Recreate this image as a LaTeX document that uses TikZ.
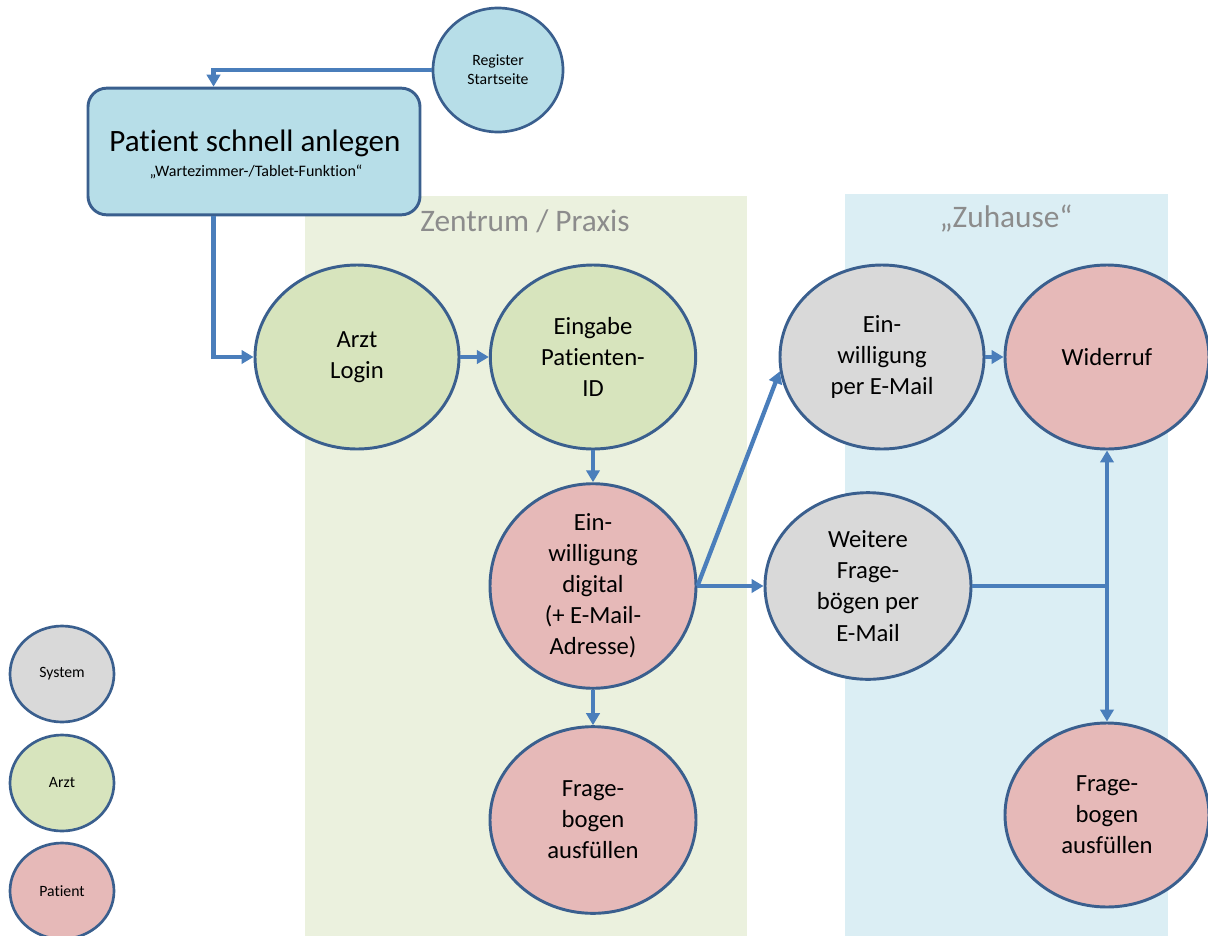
\documentclass[tikz,border=0pt]{standalone}
\usepackage{fontspec}
\setmainfont{Carlito}[Ligatures=NoCommon]
\usetikzlibrary{shapes.geometric,arrows.meta,calc}
\definecolor{bggreen}{HTML}{EBF1DE}
\definecolor{bgblue}{HTML}{DBEEF4}
\definecolor{fblue}{HTML}{B7DEE8}
\definecolor{fgreen}{HTML}{D7E4BD}
\definecolor{fpink}{HTML}{E6B9B8}
\definecolor{fgray}{HTML}{D9D9D9}
\definecolor{border}{HTML}{3A5F8E}
\definecolor{arrowc}{HTML}{4A7EBB}
\definecolor{headc}{HTML}{8C8C8C}
\tikzset{
  blob/.style={ellipse, draw=border, line width=2.2pt, inner sep=0pt, align=center,
    font=\fontsize{18.5}{23.3}\selectfont},
  small/.style={ellipse, draw=border, line width=2pt, inner sep=0pt, align=center,
    font=\fontsize{11.8}{14.2}\selectfont},
  arr/.style={draw=arrowc, line width=3.2pt, -{Triangle[length=9pt,width=10pt]}},
  ln/.style={draw=arrowc, line width=3.2pt},
  head/.style={text=headc, font=\fontsize{23.5}{27}\selectfont}
}
\begin{document}
\begin{tikzpicture}[x=0.75pt,y=-0.75pt]
\useasboundingbox (0,0) rectangle (1208,936);
% backgrounds
\fill[bggreen] (305,196) rectangle (747,936);
\fill[bgblue] (845,194) rectangle (1168,936);
\node[head] (hz) at (525,221) {Zentrum / Praxis};
\node[head] (hh) at (1006,219) {„Zuhause“};
% top
\node[small, fill=fblue, minimum width=97.5pt, minimum height=93pt] (reg) at (498,70) {Register\\Startseite};
\node[draw=border, line width=2.2pt, fill=fblue, rounded corners=14pt, minimum width=249pt, minimum height=95pt, align=center] (box) at (254,151.5) {};
\node (boxt) at (255,143) {\fontsize{23.3}{26}\selectfont Patient schnell anlegen};
\node (boxs) at (256,172) {\fontsize{12}{14}\selectfont „Wartezimmer-/Tablet-Funktion“};
% main nodes
\node[blob, fill=fgreen, minimum width=153pt, minimum height=138pt] (arzt) at (357,357) {Arzt\\Login};
\node[blob, fill=fgreen, minimum width=154pt, minimum height=138pt] (eing) at (593,357) {Eingabe\\Patienten-\\ID};
\node[blob, fill=fpink, minimum width=154.5pt, minimum height=142pt] (ein) at (593,586) {Ein-\\willigung\\digital\\(+ E-Mail-\\Adresse)};
\node[blob, fill=fpink, minimum width=154.5pt, minimum height=140pt] (fb1) at (593,820) {Frage-\\bogen\\ausfüllen};
\node[blob, fill=fgray, minimum width=153pt, minimum height=138pt] (mail) at (882,357) {Ein-\\willigung\\per E-Mail};
\node[blob, fill=fpink, minimum width=153pt, minimum height=138pt] (wid) at (1107,357) {Widerruf};
\node[blob, fill=fgray, minimum width=154.5pt, minimum height=140pt] (weit) at (868,586) {Weitere\\Frage-\\bögen per\\E-Mail};
\node[blob, fill=fpink, minimum width=153pt, minimum height=138pt] (fb2) at (1107,815) {Frage-\\bogen\\ausfüllen};
% legend
\node[small, fill=fgray, minimum width=78pt, minimum height=72pt] (lsys) at (62,674) {System};
\node[small, fill=fgreen, minimum width=78pt, minimum height=72pt] (larzt) at (62,783) {Arzt};
\node[small, fill=fpink, minimum width=78pt, minimum height=72pt] (lpat) at (62,891) {Patient};
% connectors
\coordinate (bin) at ($(box.north west)+(127,0)$);
\coordinate (bout) at ($(box.south west)+(127,0)$);
\draw[arr] (reg.west) -| (bin);
\draw[arr] (bout) |- (arzt.west);
\draw[arr] (arzt.east) -- (eing.west);
\draw[arr] (eing.south) -- (ein.north);
\draw[arr] (ein.east) -- (mail.188);
\draw[arr] (ein.east) -- (weit.west);
\draw[arr] (ein.south) -- (fb1.north);
\draw[arr] (mail.east) -- (wid.west);
\coordinate (j) at (wid.south |- weit.east);
\draw[ln] (weit.east) -- (j);
\draw[arr] (j) -- (wid.south);
\draw[arr] (j) -- (fb2.north);
\end{tikzpicture}
\end{document}
